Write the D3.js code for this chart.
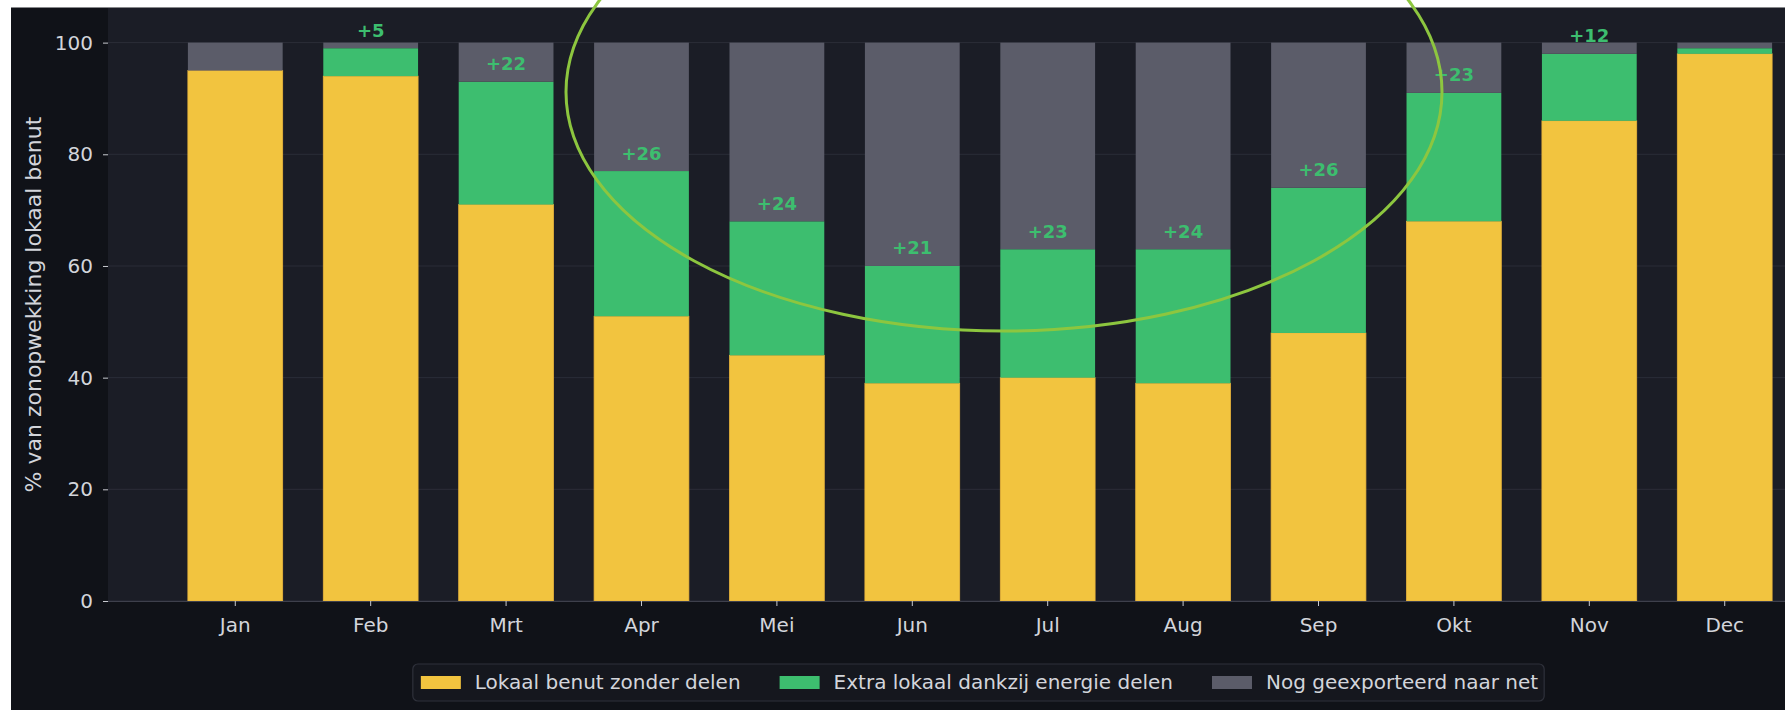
<!DOCTYPE html>
<html>
<head>
<meta charset="utf-8">
<script src="https://cdn.jsdelivr.net/npm/d3@7/dist/d3.min.js"></script>
<style>
  html, body { margin: 0; padding: 0; background: #ffffff; }
  svg { display: block; }
  text { font-family: "DejaVu Sans", sans-serif; }
</style>
</head>
<body>
<svg id="chart" width="1785" height="710"></svg>
<script>
// ---- data ----
const months = ["Jan", "Feb", "Mrt", "Apr", "Mei", "Jun", "Jul", "Aug", "Sep", "Okt", "Nov", "Dec"];
const lokaalZonderDelen = [95, 94, 71, 51, 44, 39, 40, 39, 48, 68, 86, 98];
const extraDoorDelen    = [0, 5, 22, 26, 24, 21, 23, 24, 26, 23, 12, 1];
const geexporteerd      = months.map((m, i) => 100 - lokaalZonderDelen[i] - extraDoorDelen[i]);
const yTicks = [0, 20, 40, 60, 80, 100];
const seriesNames = ["Lokaal benut zonder delen", "Extra lokaal dankzij energie delen", "Nog geexporteerd naar net"];
const seriesColors = ["#f2c43f", "#3dbe6f", "#5b5c69"];
const yLabel = "% van zonopwekking lokaal benut";

// ---- layout ----
const W = 1785, H = 710;
const plotLeft = 108, plotRight = 1852, plotTop = 8, plotBottom = 601;

const svg = d3.select("#chart");

// background (white screenshot margin + dark figure)
svg.append("rect").attr("x", 0).attr("y", 0).attr("width", W).attr("height", H).attr("fill", "#ffffff");
svg.append("rect").attr("x", 11).attr("y", 7.5).attr("width", W).attr("height", H).attr("fill", "#101218");
svg.append("rect").attr("x", plotLeft).attr("y", plotTop)
  .attr("width", plotRight - plotLeft).attr("height", plotBottom - plotTop).attr("fill", "#1b1d26");

const x = d3.scaleBand().domain(months).range([plotLeft, plotRight]).paddingInner(0.3).paddingOuter(0.59);
const y = d3.scaleLinear().domain([0, 106.2]).range([plotBottom, plotTop]);

// gridlines
svg.append("g").selectAll("line").data(yTicks).join("line")
  .attr("x1", plotLeft).attr("x2", plotRight)
  .attr("y1", d => y(d)).attr("y2", d => y(d))
  .attr("stroke", "#2b2d38").attr("stroke-width", 1);

// stacked data
const rows = months.map((m, i) => ({
  month: m,
  lokaal: lokaalZonderDelen[i],
  extra: extraDoorDelen[i],
  export: geexporteerd[i]
}));
const keys = ["lokaal", "extra", "export"];
const stacked = d3.stack().keys(keys)(rows);

const barsG = svg.append("g");
stacked.forEach((layer, li) => {
  barsG.append("g").selectAll("rect").data(layer).join("rect")
    .attr("x", d => x(d.data.month))
    .attr("width", x.bandwidth())
    .attr("y", d => y(d[1]))
    .attr("height", d => Math.max(0, y(d[0]) - y(d[1])))
    .attr("fill", seriesColors[li])
    .attr("stroke", li === 0 ? "#eab53c" : "none")
    .attr("stroke-width", li === 0 ? 0.8 : 0);
});

// value labels for extra share
svg.append("g").selectAll("text").data(rows.filter(r => r.extra >= 2)).join("text")
  .attr("x", d => x(d.month) + x.bandwidth() / 2)
  .attr("y", d => y(d.lokaal + d.extra) - 11.5)
  .attr("text-anchor", "middle")
  .attr("font-size", "18px")
  .attr("font-weight", "bold")
  .attr("fill", "#3dbe6f")
  .text(d => "+" + d.extra);

// axes
const textColor = "#d3d5db";
const yAxis = svg.append("g").attr("transform", `translate(${plotLeft},0)`)
  .call(d3.axisLeft(y).tickValues(yTicks).tickSize(5).tickPadding(10));
yAxis.select(".domain").remove();
yAxis.selectAll(".tick line").attr("stroke", "#c8cad0");
yAxis.selectAll(".tick text").attr("fill", textColor).attr("font-size", "20px")
  .attr("font-family", "DejaVu Sans, sans-serif");

const xAxis = svg.append("g").attr("transform", `translate(0,${plotBottom})`)
  .call(d3.axisBottom(x).tickSize(5).tickPadding(10));
xAxis.select(".domain").attr("stroke", "#3e404c").attr("d", `M${plotLeft},0.5H${plotRight}`);
xAxis.selectAll(".tick line").attr("stroke", "#c8cad0");
xAxis.selectAll(".tick text").attr("fill", textColor).attr("font-size", "20px")
  .attr("font-family", "DejaVu Sans, sans-serif")
  .attr("y", 31).attr("dy", 0);

// y label
svg.append("text")
  .attr("transform", `translate(41,${(plotTop + plotBottom) / 2}) rotate(-90)`)
  .attr("text-anchor", "middle")
  .attr("font-size", "22px")
  .attr("fill", textColor)
  .text(yLabel);

// legend
const legG = svg.append("g");
const legBox = legG.append("rect");
const swW = 40, swH = 13, swText = 14, itemGap = 39, padL = 8, padR = 6;
let cx = 0;
const items = [];
seriesNames.forEach((name, i) => {
  const sw = legG.append("rect").attr("width", swW).attr("height", swH).attr("fill", seriesColors[i]);
  const t = legG.append("text").attr("font-size", "20px").attr("fill", textColor).text(name);
  const tw = t.node().getComputedTextLength();
  items.push({ sw, t, x: cx, tw });
  cx += swW + swText + tw + (i < seriesNames.length - 1 ? itemGap : 0);
});
const legW = padL + cx + padR;
const legX = 978.5 - legW / 2;
const legY = 664, legH = 37;
legBox.attr("x", legX).attr("y", legY).attr("width", legW).attr("height", legH)
  .attr("rx", 5).attr("fill", "#15171e").attr("stroke", "#2f313b").attr("stroke-width", 1.2);
items.forEach(it => {
  it.sw.attr("x", legX + padL + it.x).attr("y", 676);
  it.t.attr("x", legX + padL + it.x + swW + swText).attr("y", 689);
});

// highlight ellipse annotation
svg.append("ellipse")
  .attr("cx", 1004).attr("cy", 92).attr("rx", 438).attr("ry", 239)
  .attr("fill", "none").attr("stroke", "#8dc63f").attr("stroke-width", 3);
</script>
</body>
</html>
